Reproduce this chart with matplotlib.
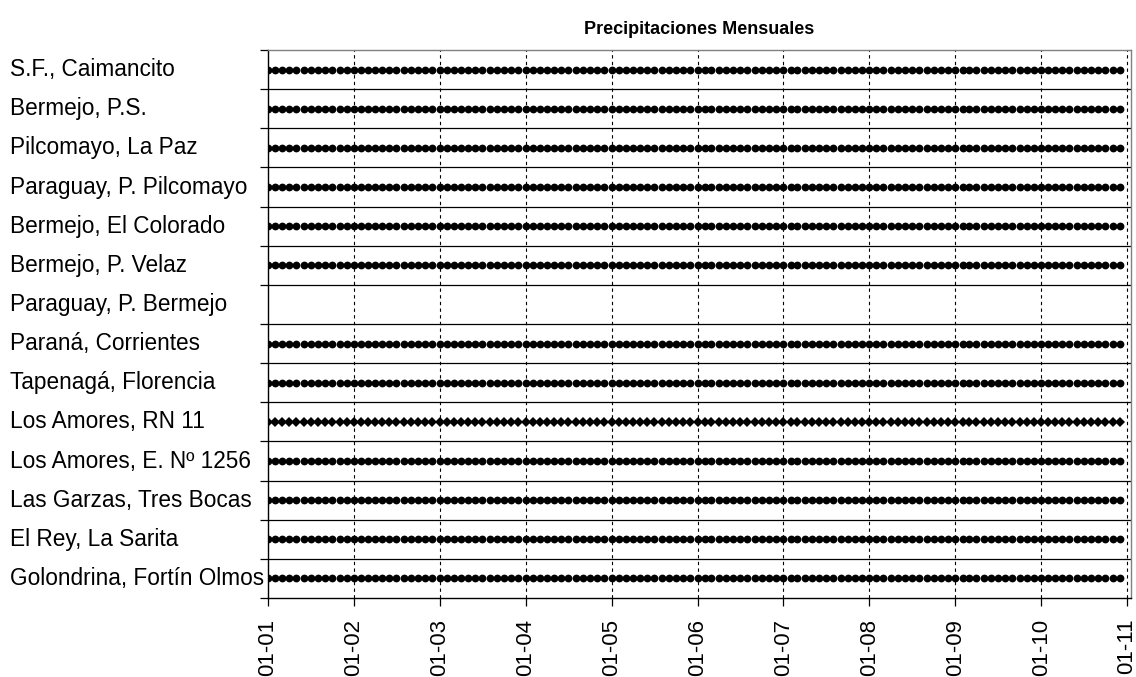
import matplotlib
matplotlib.use("Agg")
import matplotlib.pyplot as plt
import matplotlib.dates as mdates
import matplotlib.transforms as mtransforms
import numpy as np
import pandas as pd

plt.rcParams['font.family'] = ['Liberation Sans', 'DejaVu Sans']

# stations, top to bottom
stations = ["S.F., Caimancito", "Bermejo, P.S.", "Pilcomayo, La Paz",
            "Paraguay, P. Pilcomayo", "Bermejo, El Colorado", "Bermejo, P. Velaz",
            "Paraguay, P. Bermejo", "Paraná, Corrientes", "Tapenagá, Florencia",
            "Los Amores, RN 11", "Los Amores, E. Nº 1256", "Las Garzas, Tres Bocas",
            "El Rey, La Sarita", "Golondrina, Fortín Olmos"]
# months with a record (from the first month on)
n_months = [120, 120, 120, 120, 120, 120, 0, 120, 120, 120, 120, 120, 120, 120]
markers = ["o"] * 9 + ["D"] + ["o"] * 4
first_month = "2001-01-01"
tick_years = list(range(2001, 2012))

fig = plt.figure(figsize=(11.36, 6.77), dpi=100)
ax = fig.add_axes([268 / 1136, 1 - 598 / 677, (1131 - 268) / 1136, (598 - 50) / 677])

for i, (name, n, m) in enumerate(zip(stations, n_months, markers)):
    if n == 0:
        continue
    months = pd.date_range(first_month, periods=n, freq="MS")
    ms = 5.6 if m == "o" else 5.2
    ax.plot(months, np.full(n, i), linestyle="none", marker=m, markersize=ms,
            color="black", markeredgewidth=0)

ax.set_ylim(len(stations) - 0.5, -0.5)
ax.set_xlim(pd.Timestamp("2001-01-01"), pd.Timestamp("2011-01-18"))

# row separators
ax.set_yticks(np.arange(-0.5, len(stations), 1.0))
ax.set_yticklabels([])
for yb in np.arange(0.5, len(stations) - 0.5, 1.0):
    ax.axhline(yb, color="black", lw=0.9, zorder=1)

# year gridlines
xt = [pd.Timestamp(f"{y}-01-01") for y in tick_years]
ax.set_xticks(xt)
ax.xaxis.set_major_formatter(mdates.DateFormatter("%m-%y"))
for x in xt[1:]:
    ax.axvline(x, color="black", lw=0.8, ls=(0, (3, 3)), zorder=1)

ax.tick_params(axis="x", length=6, width=0.9, direction="out", rotation=90,
               labelsize=16, pad=9)
ax.tick_params(axis="y", length=6, width=0.9, direction="out")
ax.spines["left"].set_color("black")
ax.spines["bottom"].set_color("black")
ax.spines["top"].set_color("#808080")
ax.spines["right"].set_color("#808080")
for s in ax.spines.values():
    s.set_linewidth(1.0)

trans = mtransforms.blended_transform_factory(fig.transFigure, ax.transData)
for i, name in enumerate(stations):
    ax.text(10 / 1136, i, name, transform=trans, ha="left", va="center",
            fontsize=16.3, clip_on=False)

fig.text((268 + 1131) / 2 / 1136, 1 - 30 / 677, "Precipitaciones Mensuales",
         ha="center", va="center", fontsize=13, fontweight="bold")

fig.savefig("out.png", dpi=100)
